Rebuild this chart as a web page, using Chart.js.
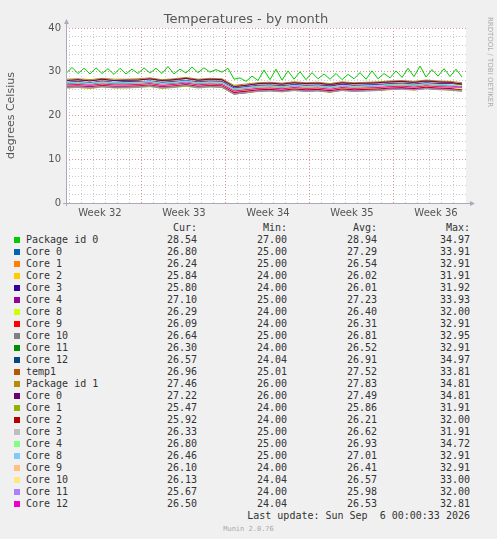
<!DOCTYPE html>
<html>
<head>
<meta charset="utf-8">
<script src="https://cdn.jsdelivr.net/npm/chart.js@4/dist/chart.umd.min.js"></script>
<style>
  body { margin: 0; background: #f0f0f0; }
  #wrap { position: relative; width: 497px; height: 539px; background: #f0f0f0; overflow: hidden; }
  #c { position: absolute; left: 0; top: 0; }
  .t { position: absolute; font: 10px "DejaVu Sans Mono", monospace; color: #333; white-space: pre; line-height: 12px; }
  .r { text-align: right; width: 60px; }
  .sq { position: absolute; width: 6px; height: 6px; left: 14px; }
</style>
</head>
<body>
<div id="wrap"><canvas id="c" width="497" height="222"></canvas></div>
<script>
// --- data -------------------------------------------------
const seriesNames = ['Package id 0', 'Core 0', 'Core 1', 'Core 2', 'Core 3', 'Core 4', 'Core 8', 'Core 9', 'Core 10', 'Core 11', 'Core 12',
  'temp1', 'Package id 1', 'Core 0', 'Core 1', 'Core 2', 'Core 3', 'Core 4', 'Core 8', 'Core 9', 'Core 10', 'Core 11', 'Core 12'];
const seriesColors = ['#00CC00', '#0066B3', '#FF8000', '#FFCC00', '#330099', '#990099', '#CCFF00', '#FF0000', '#808080', '#008F00', '#00487D',
  '#B35A00', '#B38F00', '#6B006B', '#8FB300', '#B30000', '#BEBEBE', '#80FF80', '#80C9FF', '#FFC080', '#FFE680', '#AA80FF', '#EE00CC'];
const curVals = ['28.54', '26.80', '26.24', '25.84', '25.80', '27.10', '26.29', '26.09', '26.64', '26.30', '26.57', '26.96', '27.46', '27.22', '25.47', '25.92', '26.33', '26.80', '26.46', '26.10', '26.13', '25.67', '26.50'];
const minVals = ['27.00', '25.00', '25.00', '24.00', '24.00', '25.00', '24.00', '24.00', '25.00', '24.00', '24.04', '25.01', '26.00', '26.00', '24.00', '24.00', '25.00', '25.00', '25.00', '24.00', '24.04', '24.00', '24.04'];
const avgVals = ['28.94', '27.29', '26.54', '26.02', '26.01', '27.23', '26.40', '26.31', '26.81', '26.52', '26.91', '27.52', '27.83', '27.49', '25.86', '26.21', '26.62', '26.93', '27.01', '26.41', '26.57', '25.98', '26.53'];
const maxVals = ['34.97', '33.91', '32.91', '31.91', '31.92', '33.93', '32.00', '32.91', '32.95', '32.91', '34.97', '33.81', '34.81', '34.81', '31.91', '32.00', '31.91', '34.72', '32.91', '32.91', '33.00', '32.00', '32.81'];

// x in days from the left edge of the plot
const halfDays = Array.from({ length: 67 }, (_, i) => i * 0.5);
const days = Array.from({ length: 34 }, (_, i) => i);

const pkg0 = [29.6, 31.0, 29.6, 30.8, 29.5, 30.9, 29.6, 30.7, 29.4, 30.8, 29.5, 30.6, 29.6, 30.9, 29.7, 30.8, 29.6, 31.2, 29.5, 30.6, 29.7, 31.1, 29.8, 30.9, 29.9, 30.5, 29.9, 30.8,
  28.3, 28.6, 27.8, 29.0, 28.0, 30.4, 28.2, 30.6, 28.1, 30.2, 28.3, 30.0, 28.2, 29.8, 28.4, 29.5, 28.3, 29.6, 28.2, 29.4, 28.4, 29.8, 28.3, 30.2, 28.4, 29.6,
  28.6, 30.2, 28.7, 30.8, 28.9, 31.3, 28.8, 30.5, 29.0, 30.7, 28.9, 30.6, 28.8];
const coreSeries = [
  [27.6, 27.8, 27.5, 27.9, 27.6, 27.8, 27.7, 27.9, 27.6, 27.8, 28.0, 27.7, 27.9, 27.8, 26.3, 26.6, 26.9, 27.0, 26.8, 27.1, 26.9, 27.0, 26.8, 27.2, 26.9, 27.0, 27.1, 27.3, 27.4, 27.2, 27.5, 27.3, 27.4, 27.2],
  [26.9, 27.1, 26.8, 27.2, 26.9, 27.0, 27.1, 27.2, 26.9, 27.0, 27.3, 27.0, 27.2, 27.1, 25.6, 25.9, 26.2, 26.3, 26.1, 26.4, 26.2, 26.3, 26.0, 26.4, 26.2, 26.3, 26.4, 26.6, 26.7, 26.5, 26.8, 26.6, 26.5, 26.3],
  [26.4, 26.6, 26.3, 26.7, 26.5, 26.4, 26.6, 26.7, 26.4, 26.5, 26.8, 26.5, 26.7, 26.6, 25.1, 25.4, 25.7, 25.8, 25.6, 25.9, 25.7, 25.8, 25.5, 25.9, 25.7, 25.8, 25.9, 26.1, 26.2, 26.0, 26.3, 26.1, 26.0, 25.8],
  [26.5, 26.6, 26.4, 26.7, 26.4, 26.5, 26.6, 26.8, 26.4, 26.6, 26.9, 26.5, 26.7, 26.5, 24.9, 25.2, 25.6, 25.7, 25.5, 25.8, 25.6, 25.7, 25.4, 25.8, 25.6, 25.7, 25.8, 26.0, 26.2, 26.0, 26.2, 26.0, 25.9, 25.8],
  [27.5, 27.7, 27.4, 27.8, 27.5, 27.6, 27.7, 27.8, 27.5, 27.7, 27.9, 27.6, 27.8, 27.7, 26.2, 26.5, 26.8, 26.9, 26.7, 27.0, 26.8, 26.9, 26.7, 27.1, 26.8, 26.9, 27.0, 27.2, 27.3, 27.1, 27.4, 27.2, 27.3, 27.1],
  [26.8, 26.9, 26.7, 27.0, 26.8, 26.8, 26.9, 27.1, 26.7, 26.9, 27.2, 26.8, 27.0, 26.9, 25.4, 25.7, 26.0, 26.1, 25.9, 26.2, 26.0, 26.1, 25.8, 26.2, 26.0, 26.1, 26.2, 26.4, 26.5, 26.3, 26.6, 26.4, 26.3, 26.3],
  [26.7, 26.8, 26.6, 26.9, 26.7, 26.7, 26.8, 27.0, 26.6, 26.8, 27.1, 26.7, 26.9, 26.8, 25.2, 25.5, 25.9, 26.0, 25.8, 26.1, 25.9, 26.0, 25.7, 26.1, 25.9, 26.0, 26.1, 26.3, 26.4, 26.2, 26.5, 26.3, 26.2, 26.1],
  [27.2, 27.3, 27.1, 27.4, 27.2, 27.2, 27.3, 27.5, 27.1, 27.3, 27.6, 27.2, 27.4, 27.3, 25.8, 26.1, 26.4, 26.5, 26.3, 26.6, 26.4, 26.5, 26.2, 26.6, 26.4, 26.5, 26.6, 26.8, 26.9, 26.7, 27.0, 26.8, 26.7, 26.6],
  [26.9, 27.0, 26.8, 27.1, 26.9, 26.9, 27.0, 27.2, 26.8, 27.0, 27.3, 26.9, 27.1, 27.0, 25.5, 25.8, 26.1, 26.2, 26.0, 26.3, 26.1, 26.2, 25.9, 26.3, 26.1, 26.2, 26.3, 26.5, 26.6, 26.4, 26.7, 26.5, 26.4, 26.3],
  [27.3, 27.4, 27.2, 27.5, 27.3, 27.3, 27.4, 27.6, 27.2, 27.4, 27.7, 27.3, 27.5, 27.4, 25.9, 26.2, 26.5, 26.6, 26.4, 26.7, 26.5, 26.6, 26.3, 26.7, 26.5, 26.6, 26.7, 26.9, 27.0, 26.8, 27.1, 26.9, 26.8, 26.6],
  [28.0, 28.1, 27.9, 28.2, 28.0, 28.0, 28.1, 28.3, 27.9, 28.1, 28.4, 28.0, 28.2, 28.1, 26.6, 26.9, 27.2, 27.3, 27.1, 27.4, 27.2, 27.3, 27.0, 27.4, 27.2, 27.3, 27.4, 27.6, 27.7, 27.5, 27.8, 27.6, 27.5, 27.0],
  [28.3, 28.4, 28.2, 28.5, 28.3, 28.3, 28.4, 28.6, 28.2, 28.4, 28.7, 28.3, 28.5, 28.4, 26.9, 27.2, 27.5, 27.6, 27.4, 27.7, 27.5, 27.6, 27.3, 27.7, 27.5, 27.6, 27.7, 27.9, 28.0, 27.8, 28.1, 27.9, 27.8, 27.5],
  [28.0, 28.2, 27.9, 28.3, 28.0, 28.1, 28.1, 28.4, 28.0, 28.2, 28.5, 28.1, 28.3, 28.2, 26.6, 26.9, 27.3, 27.4, 27.2, 27.5, 27.3, 27.4, 27.1, 27.5, 27.3, 27.4, 27.5, 27.7, 27.8, 27.6, 27.9, 27.7, 27.6, 27.2],
  [26.3, 26.4, 26.2, 26.5, 26.3, 26.3, 26.4, 26.6, 26.2, 26.4, 26.7, 26.3, 26.5, 26.4, 24.9, 25.2, 25.5, 25.6, 25.4, 25.7, 25.5, 25.6, 25.3, 25.7, 25.5, 25.6, 25.7, 25.9, 26.0, 25.8, 26.1, 25.9, 25.8, 25.5],
  [26.7, 26.8, 26.6, 26.9, 26.7, 26.7, 26.8, 27.0, 26.6, 26.8, 27.1, 26.7, 26.9, 26.8, 25.3, 25.6, 25.9, 26.0, 25.8, 26.1, 25.9, 26.0, 25.7, 26.1, 25.9, 26.0, 26.1, 26.3, 26.4, 26.2, 26.5, 26.3, 26.2, 25.9],
  [27.1, 27.2, 27.0, 27.3, 27.1, 27.1, 27.2, 27.4, 27.0, 27.2, 27.5, 27.1, 27.3, 27.2, 25.7, 26.0, 26.3, 26.4, 26.2, 26.5, 26.3, 26.4, 26.1, 26.5, 26.3, 26.4, 26.5, 26.7, 26.8, 26.6, 26.9, 26.7, 26.6, 26.3],
  [27.4, 27.5, 27.3, 27.6, 27.4, 27.4, 27.5, 27.7, 27.3, 27.5, 27.8, 27.4, 27.6, 27.5, 26.0, 26.3, 26.6, 26.7, 26.5, 26.8, 26.6, 26.7, 26.4, 26.8, 26.6, 26.7, 26.8, 27.0, 27.1, 26.9, 27.2, 27.0, 26.9, 26.8],
  [27.5, 27.6, 27.4, 27.7, 27.5, 27.5, 27.6, 27.8, 27.4, 27.6, 27.9, 27.5, 27.7, 27.6, 26.1, 26.4, 26.7, 26.8, 26.6, 26.9, 26.7, 26.8, 26.5, 26.9, 26.7, 26.8, 26.9, 27.1, 27.2, 27.0, 27.3, 27.1, 27.0, 26.5],
  [26.9, 27.0, 26.8, 27.1, 26.9, 26.9, 27.0, 27.2, 26.8, 27.0, 27.3, 26.9, 27.1, 27.0, 25.5, 25.8, 26.1, 26.2, 26.0, 26.3, 26.1, 26.2, 25.9, 26.3, 26.1, 26.2, 26.3, 26.5, 26.6, 26.4, 26.7, 26.5, 26.4, 26.1],
  [27.0, 27.2, 26.9, 27.3, 27.0, 27.1, 27.2, 27.3, 27.0, 27.1, 27.4, 27.1, 27.2, 27.2, 25.7, 26.0, 26.3, 26.4, 26.2, 26.5, 26.3, 26.4, 26.1, 26.5, 26.3, 26.4, 26.5, 26.7, 26.8, 26.6, 26.9, 26.7, 26.5, 26.1],
  [26.5, 26.6, 26.4, 26.7, 26.5, 26.5, 26.6, 26.8, 26.4, 26.6, 26.9, 26.5, 26.7, 26.6, 25.0, 25.3, 25.6, 25.7, 25.5, 25.8, 25.6, 25.7, 25.4, 25.8, 25.6, 25.7, 25.8, 26.0, 26.1, 25.9, 26.2, 26.0, 25.9, 25.7],
  [27.0, 27.1, 26.9, 27.2, 27.0, 27.0, 27.1, 27.3, 26.9, 27.1, 27.4, 27.0, 27.2, 27.1, 25.6, 25.9, 26.2, 26.3, 26.1, 26.4, 26.2, 26.3, 26.0, 26.4, 26.2, 26.3, 26.4, 26.6, 26.7, 26.5, 26.8, 26.6, 26.5, 26.5]
];

const weekLabels = ['Week 32', 'Week 33', 'Week 34', 'Week 35', 'Week 36'];
const weekStarts = [-0.67, 6.33, 13.33, 20.33, 27.33];
const yTicks = [0, 10, 20, 30, 40];

// --- chart ------------------------------------------------
const datasets = seriesNames.map((name, i) => {
  const xs = i === 0 ? halfDays : days;
  const ys = i === 0 ? pkg0 : coreSeries[i - 1];
  return {
    label: name,
    data: xs.map((x, k) => ({ x, y: ys[k] })),
    borderColor: seriesColors[i],
    borderWidth: 1,
    pointRadius: 0,
    tension: 0,
    order: seriesNames.length - i
  };
});

const muninDecor = {
  id: 'muninDecor',
  beforeDraw(chart) {
    const { ctx, chartArea: a } = chart;
    ctx.save();
    ctx.fillStyle = '#fff';
    ctx.fillRect(a.left, a.top, a.right - a.left, a.bottom - a.top);
    ctx.restore();
  },
  afterDraw(chart) {
    const { ctx, chartArea: a, scales } = chart;
    ctx.save();
    ctx.fillStyle = '#555';
    ctx.font = '13px "DejaVu Sans", sans-serif';
    ctx.textAlign = 'center';
    ctx.fillText('Temperatures - by month', 246, 23);
    // week labels centred in each week
    ctx.font = '10px "DejaVu Sans", sans-serif';
    weekStarts.forEach((s, i) => {
      ctx.fillText(weekLabels[i], scales.x.getPixelForValue(s + 3.5), 216);
    });
    // axis label
    ctx.save();
    ctx.translate(14, (a.top + a.bottom) / 2);
    ctx.rotate(-Math.PI / 2);
    ctx.font = '11px "DejaVu Sans", sans-serif';
    ctx.fillText('degrees Celsius', 0, 0);
    ctx.restore();
    // rrdtool credit
    ctx.save();
    ctx.translate(488, 62);
    ctx.rotate(Math.PI / 2);
    ctx.font = '7px "DejaVu Sans", sans-serif';
    ctx.fillStyle = '#aaa';
    ctx.fillText('RRDTOOL / TOBI OETIKER', 0, 0);
    ctx.restore();
    // axes with arrows
    ctx.strokeStyle = '#aab'; ctx.fillStyle = '#aab'; ctx.lineWidth = 1;
    ctx.beginPath();
    ctx.moveTo(a.left + 0.5, a.bottom + 3); ctx.lineTo(a.left + 0.5, a.top - 5);
    ctx.moveTo(a.left - 3, a.bottom + 0.5); ctx.lineTo(a.right + 5, a.bottom + 0.5);
    ctx.stroke();
    ctx.beginPath();
    ctx.moveTo(a.left - 2, a.top - 4); ctx.lineTo(a.left + 3, a.top - 4); ctx.lineTo(a.left + 0.5, a.top - 9); ctx.fill();
    ctx.beginPath();
    ctx.moveTo(a.right + 4, a.bottom - 2); ctx.lineTo(a.right + 4, a.bottom + 3); ctx.lineTo(a.right + 9, a.bottom + 0.5); ctx.fill();
    ctx.restore();
  }
};

new Chart(document.getElementById('c'), {
  type: 'line',
  data: { datasets },
  options: {
    responsive: false,
    animation: false,
    layout: { padding: { top: 28, right: 31, left: 0, bottom: 0 } },
    scales: {
      x: {
        type: 'linear', min: 0, max: 33.33,
        afterBuildTicks: (s) => { s.ticks = days.slice(0, 33).map(d => ({ value: d + 0.33 })); },
        afterFit: (s) => { s.height = 19; },
        ticks: { display: false, autoSkip: false },
        border: { display: false, dash: [1, 2] },
        grid: {
          color: (c) => weekStarts.some(w => Math.abs(w - c.tick.value) < 0.01) ? '#e09090' : '#cccccc',
          lineWidth: 1, drawTicks: false
        }
      },
      y: {
        min: 0, max: 40,
        afterBuildTicks: (s) => { s.ticks = Array.from({ length: 21 }, (_, i) => ({ value: i * 2 })); },
        afterFit: (s) => { s.width = 66; },
        ticks: {
          autoSkip: false,
          callback: (v) => yTicks.includes(v) ? String(v) : '',
          color: '#555', font: { size: 10, family: 'DejaVu Sans' }, padding: 5
        },
        border: { display: false, dash: [1, 2] },
        grid: {
          color: (c) => yTicks.includes(c.tick.value) ? '#e09090' : '#cccccc',
          lineWidth: 1, drawTicks: false
        }
      }
    },
    plugins: { legend: { display: false }, tooltip: { enabled: false } }
  },
  plugins: [muninDecor]
});

// --- legend table -----------------------------------------
const wrap = document.getElementById('wrap');
function txt(s, x, y, right) {
  const d = document.createElement('div');
  d.className = 't' + (right ? ' r' : '');
  d.textContent = s;
  d.style.left = (right ? x - 60 : x) + 'px';
  d.style.top = y + 'px';
  wrap.appendChild(d);
}
const colX = [197, 287, 377, 470];
['Cur:', 'Min:', 'Avg:', 'Max:'].forEach((h, i) => txt(h, colX[i], 222, true));
seriesNames.forEach((n, i) => {
  const y = 234 + i * 12;
  const sq = document.createElement('div');
  sq.className = 'sq';
  sq.style.top = (y + 3) + 'px';
  sq.style.background = seriesColors[i];
  wrap.appendChild(sq);
  txt(n, 26, y);
  [curVals, minVals, avgVals, maxVals].forEach((arr, k) => txt(arr[i], colX[k], y, true));
});
const lu = document.createElement('div');
lu.className = 't';
lu.textContent = 'Last update: Sun Sep  6 00:00:33 2026';
lu.style.right = '27px'; lu.style.top = '510px';
wrap.appendChild(lu);
const mv = document.createElement('div');
mv.className = 't';
mv.textContent = 'Munin 2.0.76';
mv.style.cssText += 'left:0;width:497px;text-align:center;top:523px;font-size:7px;color:#aaa;';
wrap.appendChild(mv);
</script>
</body>
</html>
